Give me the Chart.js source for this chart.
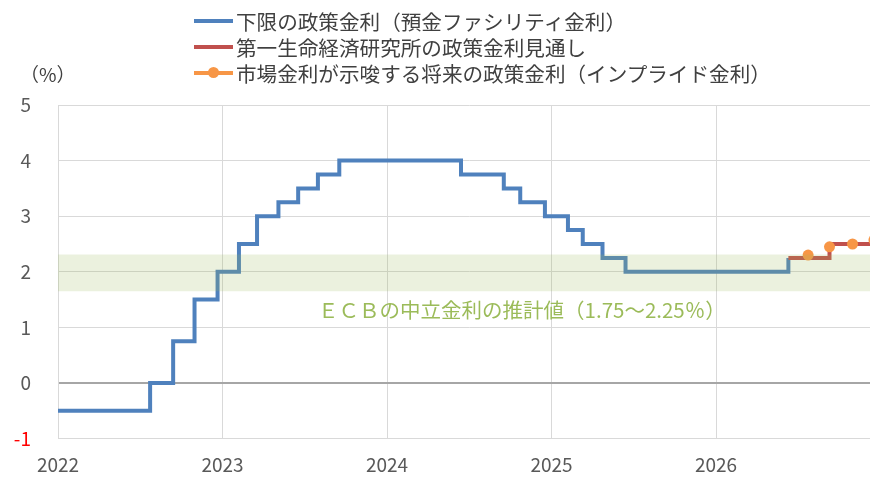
<!DOCTYPE html>
<html><head><meta charset="utf-8">
<script src="https://cdn.jsdelivr.net/npm/chart.js@4.4.1/dist/chart.umd.min.js"></script>
<style>
html,body{margin:0;padding:0;background:#fff;overflow:hidden;width:870px;height:477px;}
#wrap{position:relative;width:870px;height:477px;overflow:hidden;}
#c{position:absolute;left:0;top:0;}
.lg{position:absolute;left:194px;height:26px;display:flex;align-items:center;font:20.6px "Noto Sans CJK JP";color:#404040;white-space:nowrap;}
.sw{position:relative;width:39px;height:26px;margin-right:3px;}
.sw .ln{position:absolute;left:0;top:11px;width:39px;height:4px;}
.sw .dt{position:absolute;left:14px;top:7px;width:11px;height:11px;border-radius:50%;background:#f79646;}
#unit{position:absolute;left:20px;top:60px;font:19px "Noto Sans CJK JP";color:#404040;}
</style></head>
<body>
<div id="wrap">
<canvas id="c" width="886" height="477"></canvas>
<div id="legend"></div>
<div id="unit">（%）</div>
</div>
<script>
// ---- data ----
const seriesNames = ["下限の政策金利（預金ファシリティ金利）", "第一生命経済研究所の政策金利見通し", "市場金利が示唆する将来の政策金利（インプライド金利）"];
const seriesColors = ["#4f81bd", "#c0504d", "#f79646"];
// ECB deposit facility rate: change dates (decimal year) and new levels
const actualDates = [2022.00, 2022.56, 2022.70, 2022.83, 2022.97, 2023.10, 2023.21, 2023.34, 2023.46, 2023.58, 2023.71, 2024.45, 2024.71, 2024.81, 2024.96, 2025.10, 2025.19, 2025.31, 2025.45, 2026.44];
const actualRates = [-0.5, 0, 0.75, 1.5, 2.0, 2.5, 3.0, 3.25, 3.5, 3.75, 4.0, 3.75, 3.5, 3.25, 3.0, 2.75, 2.5, 2.25, 2.0, 2.25];
// Forecast
const forecastDates = [2026.44, 2026.69, 2027.00];
const forecastRates = [2.25, 2.5, 2.5];
// Market implied
const impliedDates = [2026.56, 2026.69, 2026.83, 2026.96];
const impliedRates = [2.30, 2.45, 2.50, 2.57];
// Neutral rate band
const bandLow = 1.65, bandHigh = 2.31;
const bandLabel = "ＥＣＢの中立金利の推計値（1.75～2.25％）";
const yearTicks = [2022, 2023, 2024, 2025, 2026];
const yTicks = [-1, 0, 1, 2, 3, 4, 5];

const pts = (xs, ys) => xs.map((x, i) => ({x: x, y: ys[i]}));

// legend (HTML)
const lg = document.getElementById('legend');
seriesNames.forEach((n, i) => {
  const d = document.createElement('div');
  d.className = 'lg';
  d.style.top = (8 + i * 26) + 'px';
  d.innerHTML = '<div class="sw"><div class="ln" style="background:' + seriesColors[i] + '"></div>' + (i === 2 ? '<div class="dt"></div>' : '') + '</div><span></span>';
  d.querySelector('span').textContent = n;
  lg.appendChild(d);
});

const bandText = {
  id: 'bandText',
  afterDatasetsDraw(chart) {
    const {ctx, scales} = chart;
    ctx.save();
    ctx.font = '20.5px "Noto Sans CJK JP"';
    ctx.fillStyle = '#9bbb59';
    ctx.textAlign = 'center';
    ctx.textBaseline = 'middle';
    ctx.fillText(bandLabel, scales.x.getPixelForValue(2024.82), scales.y.getPixelForValue(1.31));
    ctx.restore();
  }
};

const FONT = '"Noto Sans CJK JP"';
new Chart(document.getElementById('c'), {
  type: 'line',
  data: {
    datasets: [
      {label: 'band', data: pts([2021.99, 2027], [bandHigh, bandHigh]), fill: {value: bandLow}, backgroundColor: 'rgba(155,187,89,0.2)', borderWidth: 0, pointRadius: 0, order: 0, clip: false},
      {label: seriesNames[0], data: pts(actualDates, actualRates), stepped: true, borderColor: seriesColors[0], borderWidth: 4, pointRadius: 0, fill: false, order: 3},
      {label: seriesNames[1], data: pts(forecastDates, forecastRates), stepped: true, borderColor: seriesColors[1], borderWidth: 4, pointRadius: 0, fill: false, order: 2},
      {label: seriesNames[2], data: pts(impliedDates, impliedRates), showLine: false, pointRadius: 5.5, pointBackgroundColor: seriesColors[2], pointBorderWidth: 0, borderColor: seriesColors[2], order: 1}
    ]
  },
  options: {
    responsive: false,
    animation: false,
    devicePixelRatio: 1,
    layout: {padding: {top: 105, left: 0, right: 0, bottom: 0}},
    plugins: {legend: {display: false}, tooltip: {enabled: false}},
    scales: {
      x: {
        type: 'linear', min: 2022, max: 2027,
        afterBuildTicks: s => { s.ticks = yearTicks.map(v => ({value: v})); },
        afterFit: s => { s.height = 37; },
        grid: {color: '#d9d9d9', lineWidth: 1, drawTicks: false},
        border: {color: '#d9d9d9', width: 1},
        ticks: {font: {family: FONT, size: 19}, color: '#595959', padding: 15, maxRotation: 0, callback: v => String(v)}
      },
      y: {
        min: -1, max: 5,
        afterBuildTicks: s => { s.ticks = yTicks.map(v => ({value: v})); },
        afterFit: s => { s.width = 58; },
        grid: {color: c => c.tick && c.tick.value === 0 ? '#a6a6a6' : '#d9d9d9', lineWidth: c => c.tick && c.tick.value === 0 ? 2 : 1, drawTicks: false},
        border: {color: '#d9d9d9', width: 1},
        ticks: {font: {family: FONT, size: 19}, color: c => c.tick.value === -1 ? '#ff0000' : '#595959', padding: 27, callback: v => String(v)}
      }
    }
  },
  plugins: [bandText]
});
</script>
</body></html>
